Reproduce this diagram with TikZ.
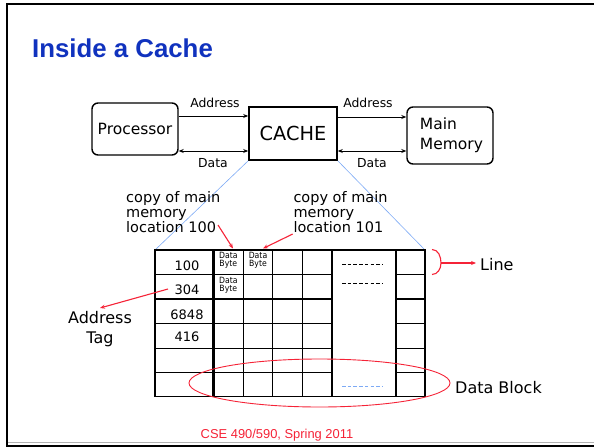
\documentclass[tikz,border=0pt]{standalone}
\usepackage{fontspec}
\setmainfont{DejaVu Sans}
\newfontfamily\arialfont{Liberation Sans}
\newfontfamily\condfont{DejaVu Sans Condensed}
\usetikzlibrary{arrows.meta,calc}
\definecolor{titleblue}{RGB}{16,50,190}
\definecolor{notered}{RGB}{245,35,55}
\definecolor{linkblue}{RGB}{125,170,245}

\begin{document}
\begin{tikzpicture}[x=1pt,y=-1pt,
  unitbox/.style={draw,line width=1.4pt,rounded corners=6pt,inner sep=0pt,align=left,
    font=\fontsize{15.5}{20}\selectfont},
  cachebox/.style={draw,line width=1.6pt,inner sep=0pt,font=\fontsize{19.3}{22}\selectfont},
  buslabel/.style={inner sep=0pt,font=\fontsize{12.4}{14}\selectfont},
  busarrow/.style={line width=1pt,-{Stealth[length=5pt,width=4pt]}},
  busboth/.style={line width=1pt,{Stealth[length=5pt,width=4pt]}-{Stealth[length=5pt,width=4pt]}},
  tagtext/.style={inner sep=0pt,font=\fontsize{13}{15}\selectfont},
  bytetext/.style={inner sep=0pt,align=center,font=\condfont\fontsize{8.6}{7.6}\selectfont},
  notetext/.style={inner sep=0pt,align=left,font=\fontsize{14.5}{15}\selectfont},
  calltext/.style={inner sep=4pt,font=\fontsize{16}{18}\selectfont},
  redarrow/.style={notered,line width=1.1pt,-{Stealth[length=5pt,width=4pt]}},
  gridline/.style={line width=1.4pt},
  fillerdash/.style={line width=0.9pt,dash pattern=on 3.5pt off 2.2pt},
]
\useasboundingbox (0,0) rectangle (594,447);

% slide frame
\draw[line width=2pt] (6,4) -- (594,4);
\draw[line width=2pt] (7,3) -- (7,446);
\draw[black!30,line width=1pt] (8,442.8) -- (594,442.8);
\draw[line width=2pt] (6,445.5) -- (594,445.5);

% title
\node[anchor=base west,inner sep=0pt,text=titleblue,
  font=\arialfont\bfseries\fontsize{25.8}{28}\selectfont] (title) at (32,57.5) {Inside a Cache};

% processor / cache / memory
\node[unitbox,minimum width=86pt,minimum height=52pt,align=center] (proc) at (135,129) {Processor};
\node[cachebox,minimum width=88pt,minimum height=53pt] (cache) at (293,133.5) {CACHE};
\node[unitbox,minimum width=86pt,minimum height=57pt] (mem) at (450,135.5) {\hspace*{3pt}Main\\\hspace*{3pt}Memory};

\draw[busarrow] ([yshift=13pt]proc.east) -- ([yshift=13pt]proc.east -| cache.west);
\draw[busboth] ([yshift=-22pt]proc.east) -- ([yshift=-22pt]proc.east -| cache.west);
\draw[busarrow] ([yshift=18.5pt]mem.west -| cache.east) -- ([yshift=18.5pt]mem.west);
\draw[busboth] ([yshift=-15.5pt]mem.west -| cache.east) -- ([yshift=-15.5pt]mem.west);

\node[buslabel] (addrL) at (215,103) {Address};
\node[buslabel] (addrR) at (368,103) {Address};
\node[buslabel] (dataL) at (213,163) {Data};
\node[buslabel] (dataR) at (372,163) {Data};

% cache array corners
\coordinate (tl) at (155,250);
\coordinate (tr) at (425,250);
\draw[linkblue,line width=0.6pt] (cache.south west) -- (tl);
\draw[linkblue,line width=0.6pt] (cache.south east) -- (tr);

% cache array grid
\draw[gridline] (155,250) rectangle (425,396.7);
\foreach \yy in {274.3,299,323.3,348.3,372.7}{
  \draw[gridline] (155,\yy) -- (332,\yy);
  \draw[gridline] (396,\yy) -- (425,\yy);
}
\foreach \xx in {243.3,272.7,302.3,332,396}{
  \draw[gridline] (\xx,250) -- (\xx,396.7);
}
\draw[line width=2.6pt] (213.3,250) -- (213.3,396.7);

% filler dashes in the wide column
\draw[fillerdash] (342,264) -- (382,264);
\draw[fillerdash] (342,283) -- (382,283);
\draw[fillerdash,linkblue] (342,386.7) -- (382,386.7);

% address tags
\node[tagtext] (tag1) at (187,266) {100};
\node[tagtext] (tag2) at (187,290) {304};
\node[tagtext] (tag3) at (187,315) {6848};
\node[tagtext] (tag4) at (187,337) {416};

% data bytes
\node[bytetext] (db1) at (228.3,260.3) {Data\\Byte};
\node[bytetext] (db2) at (258,260.3) {Data\\Byte};
\node[bytetext] (db3) at (228.3,285) {Data\\Byte};

% notes on copied locations
\node[notetext,anchor=west] (note100) at (126,212) {copy of main\\memory\\location 100};
\node[notetext,anchor=west] (note101) at (293.3,212) {copy of main\\memory\\location 101};
\coordinate (n100) at (218,225);
\coordinate (n101) at (292.7,234);
\coordinate (c100) at (233,248.5);
\coordinate (c101) at (263,248.5);
\draw[redarrow] (n100) -- (c100);
\draw[redarrow] (n101) -- (c101);

% address tag callout
\node[inner sep=0pt,align=center,font=\fontsize{16}{20}\selectfont] (addrtag) at (100,329) {Address\\Tag};
\coordinate (tagfrom) at (168,289);
\coordinate (tagto) at (100,308);
\draw[redarrow] (tagfrom) -- (tagto);

% line callout
\coordinate (brtop) at (432,249.5);
\coordinate (brtip) at (441,263);
\coordinate (brbot) at (432,274.5);
\draw[notered,line width=1.1pt] (brtop) to[out=0,in=90] (brtip) to[out=-90,in=0] (brbot);
\node[calltext,anchor=west] (linelbl) at (476,265) {Line};
\draw[redarrow] (brtip) -- (brtip -| linelbl.west);

% data block callout
\draw[notered,line width=0.9pt] (319.5,383) ellipse [x radius=130.5pt, y radius=24pt];
\node[calltext,anchor=west] (blocklbl) at (451,388) {Data Block};

% footer
\node[inner sep=0pt,text=notered,font=\arialfont\fontsize{12.9}{14}\selectfont] (footer) at (277,435) {CSE 490/590, Spring 2011};
\end{tikzpicture}
\end{document}
